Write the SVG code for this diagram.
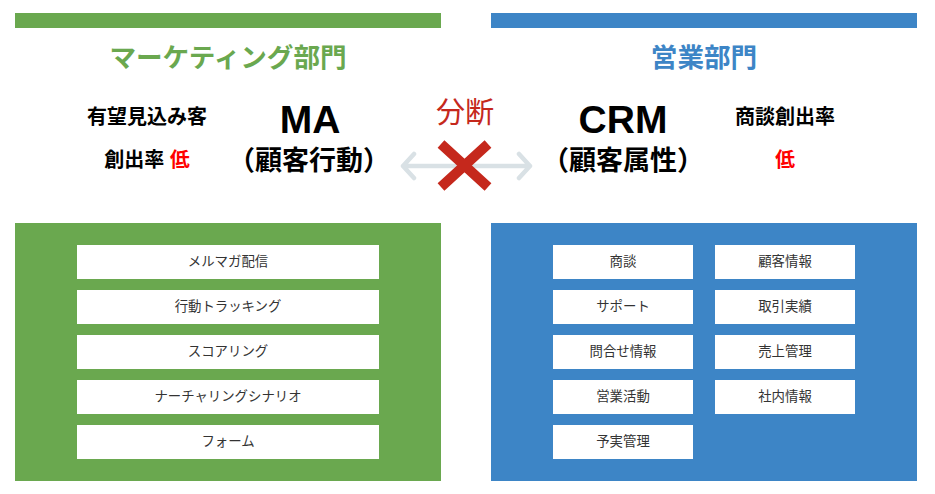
<svg xmlns="http://www.w3.org/2000/svg" width="935" height="494" viewBox="0 0 935 494">
<style>
text{font-family:"Liberation Sans","Noto Sans CJK JP",sans-serif;text-anchor:middle;font-weight:700;fill:#000}
.item rect{fill:#fff}
.item text{font-size:13.4px;font-weight:400;fill:#333}
.g{fill:#6aa84f}.b{fill:#3d85c6}
.h{font-size:26.6px}
.s{font-size:20px}
.m{font-size:27px}
.big{font-size:39px}
.red{fill:#f00}
.arr{stroke:#d9e1e5;stroke-width:4.5;fill:none;stroke-linecap:round;stroke-linejoin:round}
</style>
<rect width="935" height="494" fill="#fff"/>
<g id="marketing"><rect class="g" x="15" y="13" width="426" height="15"/>
<text class="h" x="228" y="67" style="fill:#6aa84f">マーケティング部門</text>
<text class="s" x="147" y="124">有望見込み客</text>
<text class="s" x="147" y="167">創出率 <tspan class="red">低</tspan></text>
<text class="big" x="310" y="133">MA</text>
<text class="m" x="309" y="170">（顧客行動）</text>
<rect class="g" x="15" y="223" width="426" height="258"/></g>
<g id="sales"><rect class="b" x="491" y="13" width="426" height="15"/>
<text class="h" x="704" y="67" style="fill:#3d85c6">営業部門</text>
<text class="s" x="785" y="124">商談創出率</text>
<text class="s red" x="785" y="167">低</text>
<text class="big" x="623" y="133">CRM</text>
<text class="m" x="623" y="170">（顧客属性）</text>
<rect class="b" x="491" y="223" width="426" height="258"/></g>
<g id="connectors"><path class="arr" d="M403 166H530M414 154L403 166L414 178M519 154L530 166L519 178"/>
<path d="M441 144L488 187M488 144L441 187" stroke="#c5281c" stroke-width="10" fill="none"/></g>
<g id="split"><text x="465" y="123" style="font-size:29px;font-weight:400;fill:#c5281c">分断</text></g>
<g id="n1" class="item"><rect x="77" y="245" width="302" height="34"/><text x="228" y="266">メルマガ配信</text></g>
<g id="n2" class="item"><rect x="77" y="290" width="302" height="34"/><text x="228" y="311">行動トラッキング</text></g>
<g id="n3" class="item"><rect x="77" y="335" width="302" height="34"/><text x="228" y="356">スコアリング</text></g>
<g id="n4" class="item"><rect x="77" y="380" width="302" height="34"/><text x="228" y="401">ナーチャリングシナリオ</text></g>
<g id="n5" class="item"><rect x="77" y="425" width="302" height="34"/><text x="228" y="446">フォーム</text></g>
<g id="n6" class="item"><rect x="553" y="245" width="140" height="34"/><text x="623" y="266">商談</text></g>
<g id="n7" class="item"><rect x="553" y="290" width="140" height="34"/><text x="623" y="311">サポート</text></g>
<g id="n8" class="item"><rect x="553" y="335" width="140" height="34"/><text x="623" y="356">問合せ情報</text></g>
<g id="n9" class="item"><rect x="553" y="380" width="140" height="34"/><text x="623" y="401">営業活動</text></g>
<g id="n10" class="item"><rect x="553" y="425" width="140" height="34"/><text x="623" y="446">予実管理</text></g>
<g id="n11" class="item"><rect x="715" y="245" width="140" height="34"/><text x="785" y="266">顧客情報</text></g>
<g id="n12" class="item"><rect x="715" y="290" width="140" height="34"/><text x="785" y="311">取引実績</text></g>
<g id="n13" class="item"><rect x="715" y="335" width="140" height="34"/><text x="785" y="356">売上管理</text></g>
<g id="n14" class="item"><rect x="715" y="380" width="140" height="34"/><text x="785" y="401">社内情報</text></g>
</svg>
